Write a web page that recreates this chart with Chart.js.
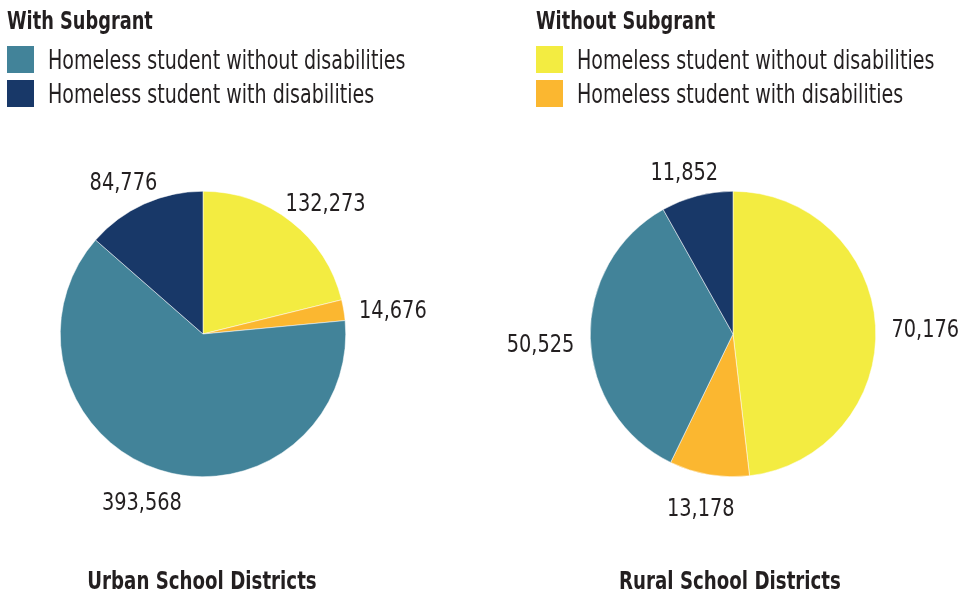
<!DOCTYPE html>
<html>
<head>
<meta charset="utf-8">
<script src="https://cdn.jsdelivr.net/npm/chart.js@4"></script>
<style>
  body { margin: 0; background: #fff; }
  #wrap { position: relative; width: 959px; height: 597px; overflow: hidden;
          font-family: "Liberation Sans Narrow", "DejaVu Sans Condensed", sans-serif; color: #231f20; }
  #wrap canvas { position: absolute; left: 0; top: 0; }
  .head { position: absolute; font-weight: bold; font-size: 25px; line-height: 30px; white-space: nowrap;
          transform: scaleX(0.79); transform-origin: left center; }
  .item { position: absolute; font-size: 26px; line-height: 30px; white-space: nowrap;
          transform: scaleX(0.815); transform-origin: left center; }
  .box { position: absolute; width: 27px; height: 27px; }
  .title { position: absolute; font-weight: bold; font-size: 25px; line-height: 30px; white-space: nowrap;
           text-align: center; width: 300px; transform: scaleX(0.81); transform-origin: center center; }
</style>
</head>
<body>
<div id="wrap">
  <canvas id="urban" width="959" height="597"></canvas>
  <canvas id="rural" width="959" height="597"></canvas>
  <div id="legends"></div>
  <div class="title" style="left:52px; top:566px;">Urban School Districts</div>
  <div class="title" style="left:580px; top:566px;">Rural School Districts</div>
</div>
<script>
// slices, clockwise from 12 o'clock
const sliceLabels = [
  'Without Subgrant - Homeless student without disabilities',
  'Without Subgrant - Homeless student with disabilities',
  'With Subgrant - Homeless student without disabilities',
  'With Subgrant - Homeless student with disabilities'
];
const urbanValues = [132273, 14676, 393568, 84776];
const ruralValues = [70176, 13178, 50525, 11852];
const sliceColors = ['#f3ec41', '#fbb730', '#428399', '#183868'];

const legendGroups = ['With Subgrant', 'Without Subgrant'];
const legendItems = ['Homeless student without disabilities', 'Homeless student with disabilities'];
const legendColors = [['#428399', '#183868'], ['#f3ec41', '#fbb730']];

// html legends
const legendX = [7, 536];
const legendsDiv = document.getElementById('legends');
legendGroups.forEach((g, i) => {
  let html = `<div class="head" style="left:${legendX[i]}px; top:6px;">${g}</div>`;
  legendItems.forEach((t, j) => {
    const y = 46 + j * 34;
    html += `<div class="box" style="left:${legendX[i]}px; top:${y}px; background:${legendColors[i][j]};"></div>`;
    html += `<div class="item" style="left:${legendX[i] + 41}px; top:${y - 1}px;">${t}</div>`;
  });
  legendsDiv.innerHTML += html;
});

// value labels outside each slice (font squeezed to look condensed)
const squeeze = 0.86;
const outsideLabels = {
  id: 'outsideLabels',
  afterDatasetsDraw(chart) {
    const ctx = chart.ctx;
    const meta = chart.getDatasetMeta(0);
    const values = chart.data.datasets[0].data;
    ctx.save();
    ctx.font = '25px "Liberation Sans Narrow", "DejaVu Sans Condensed", sans-serif';
    ctx.fillStyle = '#231f20';
    ctx.textAlign = 'center';
    ctx.textBaseline = 'middle';
    meta.data.forEach((arc, i) => {
      const p = arc.getProps(['x', 'y', 'startAngle', 'endAngle', 'outerRadius'], true);
      const mid = (p.startAngle + p.endAngle) / 2;
      const cx = Math.cos(mid), cy = Math.sin(mid);
      const text = values[i].toLocaleString('en-US');
      const w = ctx.measureText(text).width * squeeze;
      const h = 26;
      const gap = 16;
      const x = p.x + cx * (p.outerRadius + gap) + cx * w / 2;
      const y = p.y + cy * (p.outerRadius + gap) + cy * h / 2 + 6;
      ctx.save();
      ctx.translate(x, y);
      ctx.scale(squeeze, 1);
      ctx.fillText(text, 0, 0);
      ctx.restore();
    });
    ctx.restore();
  }
};

function makePie(id, values, pad) {
  return new Chart(document.getElementById(id), {
    type: 'pie',
    data: {
      labels: sliceLabels,
      datasets: [{
        data: values,
        backgroundColor: sliceColors,
        borderColor: '#ffffff',
        borderWidth: 0.5
      }]
    },
    options: {
      responsive: false,
      animation: false,
      layout: { padding: pad },
      plugins: {
        legend: { display: false },
        tooltip: { enabled: false }
      }
    },
    plugins: [outsideLabels]
  });
}

makePie('urban', urbanValues, { left: 60, right: 613, top: 191, bottom: 120 });
makePie('rural', ruralValues, { left: 590, right: 83, top: 191, bottom: 120 });
</script>
</body>
</html>
